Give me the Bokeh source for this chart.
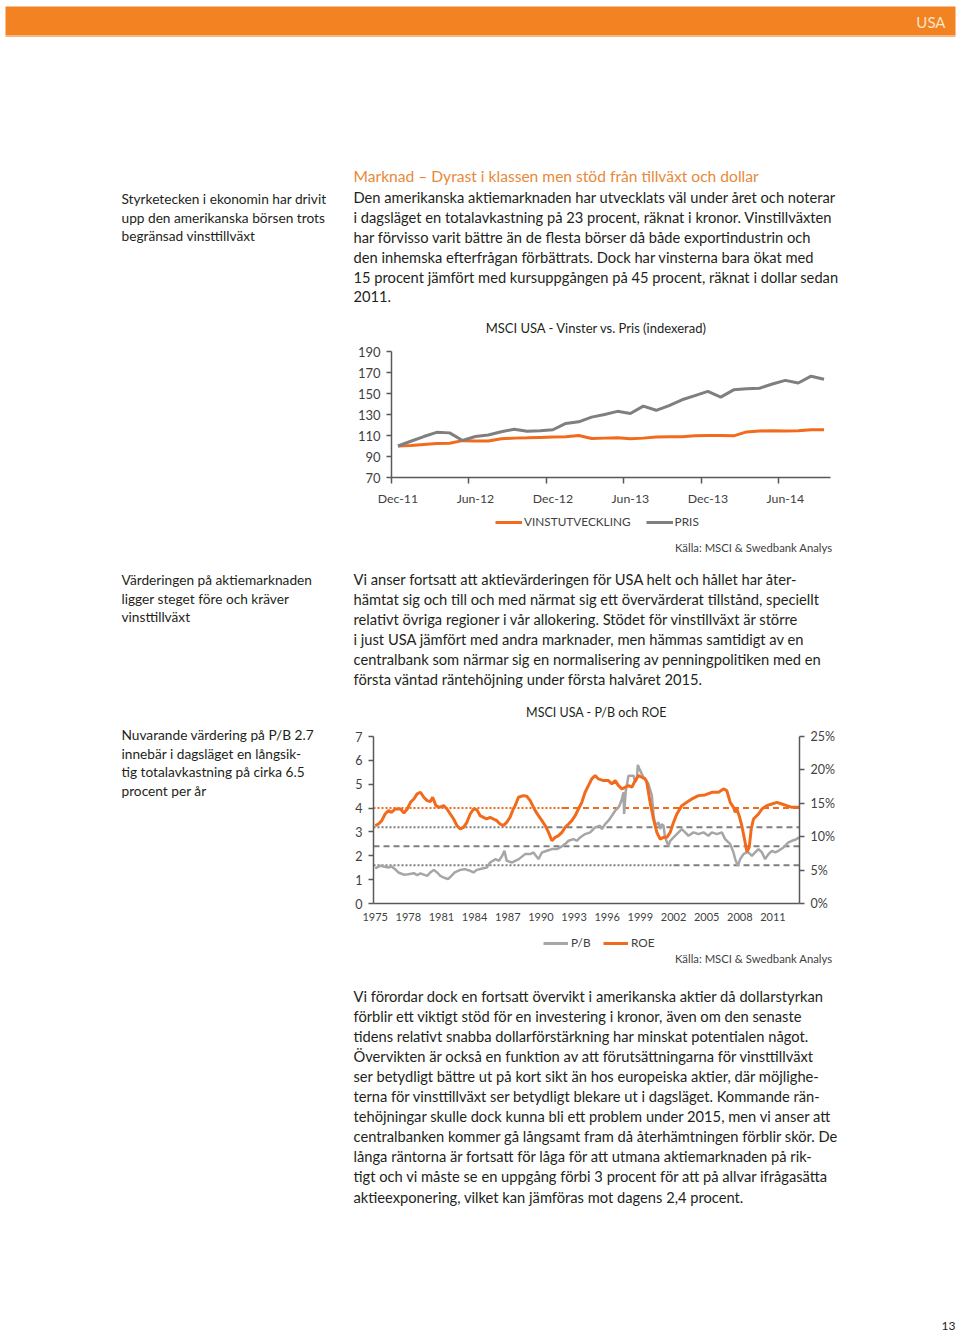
from bokeh.plotting import figure
from bokeh.layouts import column, row
from bokeh.models import (Range1d, LinearAxis, FixedTicker, PrintfTickFormatter,
                          Legend, LegendItem, Spacer)
from bokeh.core.properties import value
from bokeh.embed import file_html
from bokeh.resources import INLINE

FONT = "Lato"
TXT = "#231F20"
AX = "#595959"
LBL = "#3F3F3F"
ORANGE = "#F26B1D"
GRAY1 = "#7F7F7F"
GRAY2 = "#A6A6A6"
HEAD_ORANGE = "#F28222"
TITLE_ORANGE = "#E8893A"

# ---------------- chart 1 data: MSCI USA - Vinster vs. Pris (indexerad) ----------------
months1 = ["Dec-11", "Jan-12", "Feb-12", "Mar-12", "Apr-12", "May-12", "Jun-12", "Jul-12",
           "Aug-12", "Sep-12", "Oct-12", "Nov-12", "Dec-12", "Jan-13", "Feb-13", "Mar-13",
           "Apr-13", "May-13", "Jun-13", "Jul-13", "Aug-13", "Sep-13", "Oct-13", "Nov-13",
           "Dec-13", "Jan-14", "Feb-14", "Mar-14", "Apr-14", "May-14", "Jun-14", "Jul-14",
           "Aug-14", "Sep-14"]
vinst = [100, 100.5, 101.4, 102.3, 102.6, 105.1, 104.8, 104.8, 106.9, 107.5, 107.8, 108.2,
         108.5, 108.8, 110.0, 107.2, 107.5, 107.8, 106.9, 107.5, 108.5, 108.8, 108.8, 109.7,
         110.0, 110.0, 109.7, 113.4, 114.3, 114.6, 114.3, 114.6, 115.5, 115.5]
pris = [100, 104.5, 109, 113, 112.5, 105.3, 109, 110.5, 113.5, 116, 114, 114.5,
        115.5, 121.5, 123, 127.5, 130, 133, 131, 138, 134, 138.5, 144, 148,
        152, 146.5, 153.5, 154.5, 155, 159, 162.5, 160, 166.5, 163.5]
x1_tick_labels = ["Dec-11", "Jun-12", "Dec-12", "Jun-13", "Dec-13", "Jun-14"]
y1_ticks = [70, 90, 110, 130, 150, 170, 190]

# ---------------- chart 2 data: MSCI USA - P/B och ROE ----------------
pb_year = [1975.0, 1975.45, 1976.2, 1976.5, 1976.8, 1977.1, 1977.6, 1978.0, 1978.5, 1978.8,
           1979.1, 1979.4, 1979.7, 1980.0, 1980.3, 1980.6, 1980.9, 1981.2, 1981.6, 1981.9,
           1982.2, 1982.7, 1983.1, 1983.6, 1983.9, 1984.2, 1984.7, 1985.1, 1985.4, 1985.9,
           1986.2, 1986.5, 1986.7, 1986.9, 1987.4, 1988.0, 1988.57, 1989.03, 1989.33, 1989.78,
           1990.09, 1990.54, 1990.99, 1991.44, 1991.74, 1992.19, 1992.5, 1992.95, 1993.25, 1993.55,
           1994.0, 1994.46, 1994.91, 1995.36, 1995.52, 1995.81, 1996.11, 1996.42, 1996.72, 1997.02,
           1997.17, 1997.33, 1997.47, 1997.53, 1997.68, 1997.93, 1998.38, 1998.53, 1998.68, 1998.77,
           1998.98, 1999.28, 1999.43, 1999.73, 2000.04, 2000.19, 2000.34, 2000.64, 2000.79, 2000.94,
           2001.09, 2001.24, 2001.54, 2001.7, 2002.0, 2002.45, 2002.75, 2003.05, 2003.35, 2003.81,
           2004.26, 2004.71, 2005.16, 2005.47, 2005.92, 2006.37, 2006.67, 2006.97, 2007.13, 2007.43,
           2007.58, 2007.82, 2008.03, 2008.33, 2008.64, 2008.78, 2009.09, 2009.39, 2009.69, 2010.0,
           2010.29, 2010.59, 2010.9, 2011.2, 2011.5, 2011.95, 2012.4, 2012.71, 2013.0, 2013.37]
pb_value = [1.47, 1.58, 1.51, 1.55, 1.44, 1.30, 1.21, 1.23, 1.27, 1.19,
            1.26, 1.21, 1.16, 1.30, 1.41, 1.30, 1.16, 1.09, 1.02, 1.16,
            1.30, 1.41, 1.44, 1.37, 1.30, 1.41, 1.47, 1.51, 1.72, 1.86,
            1.79, 2.00, 2.21, 1.79, 1.72, 1.86, 2.07, 2.07, 2.14, 1.86,
            2.14, 2.21, 2.28, 2.28, 2.35, 2.49, 2.63, 2.70, 2.63, 2.77,
            2.91, 2.98, 3.19, 3.26, 3.12, 3.33, 3.47, 3.68, 3.89, 4.03,
            4.17, 4.38, 4.66, 3.75, 4.73, 5.36, 5.36, 5.08, 5.22, 5.81,
            5.57, 5.29, 5.22, 5.01, 4.52, 3.70, 3.26, 3.40, 3.12, 3.33,
            3.26, 2.77, 2.42, 2.63, 2.77, 2.98, 3.12, 2.98, 2.84, 2.98,
            2.91, 2.98, 2.84, 2.98, 2.91, 2.98, 2.70, 2.56, 2.49, 2.14,
            1.86, 1.58, 1.86, 2.07, 2.14, 2.14, 2.00, 2.14, 2.28, 2.14,
            1.86, 2.07, 2.21, 2.14, 2.21, 2.35, 2.56, 2.63, 2.67, 2.77]
roe_year = [1975.0, 1975.3, 1975.6, 1975.9, 1976.2, 1976.5, 1976.8, 1977.3, 1977.6, 1977.9,
            1978.2, 1978.5, 1978.8, 1979.1, 1979.4, 1979.7, 1980.0, 1980.2, 1980.5, 1980.8,
            1981.2, 1981.5, 1981.8, 1982.1, 1982.4, 1982.7, 1983.0, 1983.3, 1983.6, 1983.9,
            1984.2, 1984.5, 1984.8, 1985.1, 1985.4, 1985.7, 1986.0, 1986.3, 1986.6, 1986.9,
            1987.2, 1987.5, 1987.67, 1987.97, 1988.42, 1988.72, 1989.03, 1989.48, 1989.78, 1990.09,
            1990.39, 1990.69, 1990.99, 1991.29, 1991.59, 1991.9, 1992.19, 1992.5, 1992.8, 1993.1,
            1993.4, 1993.7, 1994.0, 1994.3, 1994.6, 1994.91, 1995.2, 1995.66, 1996.11, 1996.42,
            1996.72, 1997.02, 1997.33, 1997.63, 1997.93, 1998.23, 1998.53, 1998.83, 1999.13, 1999.43,
            1999.58, 1999.88, 2000.19, 2000.49, 2000.79, 2001.09, 2001.4, 2001.7, 2002.0, 2002.3,
            2002.75, 2003.2, 2003.66, 2004.26, 2004.86, 2005.47, 2006.07, 2006.52, 2006.82, 2007.13,
            2007.43, 2007.58, 2007.73, 2007.94, 2008.18, 2008.42, 2008.64, 2008.85, 2009.03, 2009.24,
            2009.69, 2010.0, 2010.44, 2010.9, 2011.35, 2011.8, 2012.25, 2012.71, 2013.16, 2013.37]
roe_value = [11.65, 11.9, 12.4, 13.4, 13.9, 13.65, 14.15, 14.15, 13.55, 14.15,
             15.15, 15.65, 16.4, 16.65, 15.9, 15.4, 15.25, 15.9, 14.65, 14.4,
             14.65, 14.15, 13.4, 12.65, 11.65, 11.15, 11.4, 12.15, 13.4, 14.15,
             14.05, 13.15, 12.9, 12.65, 12.9, 12.65, 12.4, 11.9, 11.65, 12.15,
             12.9, 14.15, 14.65, 15.9, 16.15, 16.05, 15.4, 13.9, 13.15, 12.4,
             11.65, 10.65, 9.4, 9.9, 10.15, 10.65, 11.4, 11.9, 12.4, 13.15,
             14.15, 15.15, 16.65, 17.65, 18.65, 19.15, 18.65, 18.4, 18.4, 17.9,
             18.4, 17.65, 17.15, 17.4, 17.65, 17.4, 18.4, 19.15, 18.9, 18.65,
             18.15, 15.15, 12.65, 10.65, 9.65, 9.9, 9.9, 10.65, 12.15, 13.4,
             14.65, 15.15, 15.65, 16.15, 16.25, 16.65, 16.65, 17.15, 16.9, 15.15,
             14.4, 13.65, 14.15, 13.15, 11.65, 9.65, 7.75, 8.4, 11.15, 12.65,
             13.4, 14.15, 14.65, 14.9, 15.15, 14.9, 14.65, 14.4, 14.4, 14.4]
pb_levels = [3.2, 2.4, 1.6]          # P/B mean +/- 1 std (left axis)
roe_level = 14.3                     # ROE average (right axis, %)
x2_ticks = [1975, 1978, 1981, 1984, 1987, 1990, 1993, 1996, 1999, 2002, 2005, 2008, 2011]
y2_ticks = [0, 1, 2, 3, 4, 5, 6, 7]
roe_ticks = [0, 5, 10, 15, 20, 25]

# ---------------- page texts ----------------
side1 = ["Styrketecken i ekonomin har drivit", "upp den amerikanska börsen trots",
         "begränsad vinsttillväxt"]
heading = "Marknad – Dyrast i klassen men stöd från tillväxt och dollar"
para1 = ["Den amerikanska aktiemarknaden har utvecklats väl under året och noterar",
         "i dagsläget en totalavkastning på 23 procent, räknat i kronor. Vinstillväxten",
         "har förvisso varit bättre än de flesta börser då både exportindustrin och",
         "den inhemska efterfrågan förbättrats. Dock har vinsterna bara ökat med",
         "15 procent jämfört med kursuppgången på 45 procent, räknat i dollar sedan",
         "2011."]
side2 = ["Värderingen på aktiemarknaden", "ligger steget före och kräver", "vinsttillväxt"]
para2 = ["Vi anser fortsatt att aktievärderingen för USA helt och hållet har åter-",
         "hämtat sig och till och med närmat sig ett övervärderat tillstånd, speciellt",
         "relativt övriga regioner i vår allokering. Stödet för vinstillväxt är större",
         "i just USA jämfört med andra marknader, men hämmas samtidigt av en",
         "centralbank som närmar sig en normalisering av penningpolitiken med en",
         "första väntad räntehöjning under första halvåret 2015."]
side3 = ["Nuvarande värdering på P/B 2.7", "innebär i dagsläget en långsik-",
         "tig totalavkastning på cirka 6.5", "procent per år"]
para3 = ["Vi förordar dock en fortsatt övervikt i amerikanska aktier då dollarstyrkan",
         "förblir ett viktigt stöd för en investering i kronor, även om den senaste",
         "tidens relativt snabba dollarförstärkning har minskat potentialen något.",
         "Övervikten är också en funktion av att förutsättningarna för vinsttillväxt",
         "ser betydligt bättre ut på kort sikt än hos europeiska aktier, där möjlighe-",
         "terna för vinsttillväxt ser betydligt blekare ut i dagsläget. Kommande rän-",
         "tehöjningar skulle dock kunna bli ett problem under 2015, men vi anser att",
         "centralbanken kommer gå långsamt fram då återhämtningen förblir skör. De",
         "långa räntorna är fortsatt för låga för att utmana aktiemarknaden på rik-",
         "tigt och vi måste se en uppgång förbi 3 procent för att på allvar ifrågasätta",
         "aktieexponering, vilket kan jämföras mot dagens 2,4 procent."]
title1 = "MSCI USA - Vinster vs. Pris (indexerad)"
title2 = "MSCI USA - P/B och ROE"
source_text = "Källa: MSCI & Swedbank Analys"

PARA_SIZE = "14.7px"
SIDE_SIZE = "13.7px"
PAGE_W = 960


def page_fig(w, h):
    p = figure(width=w, height=h, x_range=Range1d(0, w), y_range=Range1d(h, 0),
               toolbar_location=None, output_backend="svg", min_border=0,
               x_axis_location=None, y_axis_location=None,
               outline_line_color=None, background_fill_color="white",
               border_fill_color="white")
    p.grid.visible = False
    return p


def text_block(p, x, y0, step, lines, size, color=TXT, align="left"):
    p.text(x=[x] * len(lines), y=[y0 + i * step for i in range(len(lines))], text=lines,
           text_font=value(FONT), text_font_size=value(size), text_color=color,
           text_baseline="middle", text_align=align)


def legend_fig(h, items, loc, src_y, glyph_w, standoff, spacing):
    p = page_fig(PAGE_W, h)
    leg_items = []
    for label, color, width in items:
        # key-only renderer: its single point lies outside the visible range
        r = p.line(x=[-100], y=[-100], line_color=color, line_width=width)
        leg_items.append(LegendItem(label=label, renderers=[r]))
    leg = Legend(items=leg_items, orientation="horizontal", location=loc,
                 border_line_color=None, background_fill_alpha=0, label_text_font=FONT,
                 label_text_font_size="11.8px", label_text_color=LBL, glyph_width=glyph_w,
                 glyph_height=14, label_height=14, label_standoff=standoff,
                 spacing=spacing, padding=0, margin=0)
    p.add_layout(leg, "center")
    text_block(p, 832, src_y, 0, [source_text], "11.3px", color=LBL, align="right")
    return p


def style_axis(ax, size="12.8px"):
    ax.axis_line_color = AX
    ax.axis_line_width = 1.5
    ax.major_tick_line_width = 1.5
    ax.major_label_text_font = FONT
    ax.major_label_text_font_size = size
    ax.major_label_text_color = LBL


# ---------- section A (page y 0..315) ----------
sa = page_fig(PAGE_W, 315)
sa.quad(left=[5], right=[955], top=[6], bottom=[35], fill_color=HEAD_ORANGE, line_color=None)
sa.quad(left=[5], right=[955], top=[35], bottom=[36.5], fill_color="#F7B37A", line_color=None)
text_block(sa, 945, 21, 0, ["USA"], "15px", color="#FCE4C4", align="right")
text_block(sa, 121, 198, 18.5, side1, SIDE_SIZE)
text_block(sa, 353, 175, 0, [heading], "15.6px", color=TITLE_ORANGE)
text_block(sa, 353, 196, 20, para1, PARA_SIZE)

# ---------- chart 1 title (page y 315..337) ----------
t1 = page_fig(PAGE_W, 22)
text_block(t1, 596, 12, 0, [title1], "13px", align="center")

# ---------- chart 1 (page y 337..508) ----------
idx1 = list(range(len(months1)))
c1 = figure(width=500, height=171, x_range=Range1d(-0.5, len(months1) - 0.5),
            y_range=Range1d(y1_ticks[0], y1_ticks[-1]), toolbar_location=None,
            output_backend="svg", min_border_left=46, min_border_right=15,
            min_border_top=14, min_border_bottom=27, outline_line_color=None,
            background_fill_color="white", border_fill_color="white")
c1.grid.visible = False
tick_pos1 = [months1.index(m) for m in x1_tick_labels]
c1.xaxis.ticker = FixedTicker(ticks=tick_pos1, minor_ticks=[t - 0.5 for t in tick_pos1])
c1.xaxis.major_label_overrides = {t: months1[t] for t in tick_pos1}
c1.xaxis.major_tick_line_color = None
c1.xaxis.major_tick_out = 0
c1.xaxis.major_tick_in = 0
c1.xaxis.minor_tick_out = 6
c1.xaxis.minor_tick_in = 0
c1.xaxis.minor_tick_line_color = AX
c1.xaxis.minor_tick_line_width = 1.5
c1.xaxis.major_label_standoff = 7
c1.yaxis.ticker = FixedTicker(ticks=y1_ticks)
c1.yaxis.major_tick_out = 5
c1.yaxis.major_tick_in = 0
c1.yaxis.minor_tick_line_color = None
c1.yaxis.major_label_standoff = 6
c1.yaxis.major_tick_line_color = AX
style_axis(c1.xaxis[0], "12.3px")
style_axis(c1.yaxis[0], "13px")
c1.line(idx1, vinst, line_color=ORANGE, line_width=3)
c1.line(idx1, pris, line_color=GRAY1, line_width=3)

# ---------- chart 1 legend + source (page y 508..560) ----------
l1 = legend_fig(52, [("VINSTUTVECKLING", ORANGE, 3), ("PRIS", GRAY1, 3)],
                (495, 31), 39, 27, 2, 15)

# ---------- section C (page y 560..700) ----------
sc = page_fig(PAGE_W, 140)
text_block(sc, 121, 19, 18.5, side2, SIDE_SIZE)
text_block(sc, 353, 18, 20, para2, PARA_SIZE)

# ---------- chart 2 title (page y 700..722) ----------
t2 = page_fig(PAGE_W, 22)
text_block(t2, 596, 12, 0, [title2], "12.5px", align="center")

# ---------- chart 2 with side text (page y 722..929) ----------
sd = page_fig(345, 207)
text_block(sd, 121, 12, 18.5, side3, SIDE_SIZE)

x_lo, x_hi = 1974.85, 2013.4
c2 = figure(width=500, height=207, x_range=Range1d(x_lo, x_hi),
            y_range=Range1d(y2_ticks[0], y2_ticks[-1]), toolbar_location=None,
            output_backend="svg", min_border_left=28, min_border_right=46,
            min_border_top=14, min_border_bottom=26, outline_line_color=None,
            background_fill_color="white", border_fill_color="white")
c2.grid.visible = False
c2.extra_y_ranges = {"roe": Range1d(roe_ticks[0], roe_ticks[-1])}
c2.add_layout(LinearAxis(y_range_name="roe", ticker=FixedTicker(ticks=roe_ticks),
                         formatter=PrintfTickFormatter(format="%d%%")), "right")
c2.xaxis.ticker = FixedTicker(ticks=x2_ticks)
c2.xaxis.major_tick_line_color = None
c2.xaxis.major_tick_out = 0
c2.xaxis.major_tick_in = 0
c2.xaxis.minor_tick_line_color = None
c2.xaxis.major_label_standoff = 9
style_axis(c2.xaxis[0], "11px")
for ax in c2.yaxis:
    ax.major_tick_out = 5
    ax.major_tick_in = 0
    ax.minor_tick_line_color = None
    ax.major_label_standoff = 6
    ax.major_tick_line_color = AX
    style_axis(ax, "12.5px")
c2.yaxis[0].ticker = FixedTicker(ticks=y2_ticks)
# reference lines: dotted on the older part, dashed on the newer part, as in the source
c2.line([x_lo, 1992.0], [roe_level, roe_level], y_range_name="roe", line_color=ORANGE,
        line_width=2, line_dash="2 2")
c2.line([1992.0, x_hi], [roe_level, roe_level], y_range_name="roe", line_color=ORANGE,
        line_width=2, line_dash="6 4")
splits = [1990.5, None, 2002.0]
for lvl, sp in zip(pb_levels, splits):
    if sp is None:
        c2.line([x_lo, x_hi], [lvl, lvl], line_color=GRAY1, line_width=2, line_dash="6 4")
    else:
        c2.line([x_lo, sp], [lvl, lvl], line_color=GRAY1, line_width=2, line_dash="2 2")
        c2.line([sp, x_hi], [lvl, lvl], line_color=GRAY1, line_width=2, line_dash="6 4")
c2.line(pb_year, pb_value, line_color=GRAY2, line_width=2.5)
c2.line(roe_year, roe_value, y_range_name="roe", line_color=ORANGE, line_width=3)

# ---------- chart 2 legend + source (page y 929..972) ----------
l2 = legend_fig(43, [("P/B", GRAY2, 3), ("ROE", ORANGE, 3)], (543, 22), 29, 25, 3, 12)

# ---------- section E (page y 972..1333) ----------
se = page_fig(PAGE_W, 361)
text_block(se, 353, 23, 20.1, para3, PARA_SIZE)
text_block(se, 955, 353, 0, ["13"], "12px", align="right")

page = column(sa,
              t1,
              row(Spacer(width=345, height=171), c1),
              l1,
              sc,
              t2,
              row(sd, column(c2)),
              l2,
              se)

open("out.html", "w").write(file_html(page, INLINE))
